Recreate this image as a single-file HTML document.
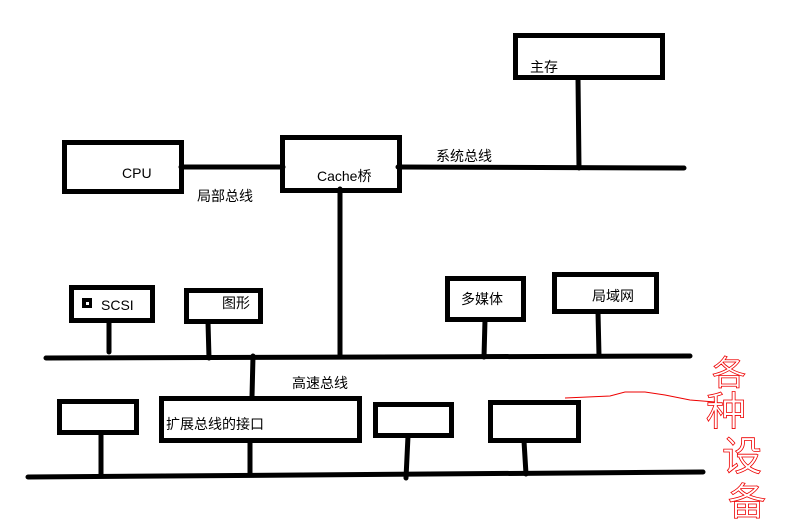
<!DOCTYPE html>
<html><head><meta charset="utf-8"><style>
html,body{margin:0;padding:0;background:#fff;width:800px;height:530px;overflow:hidden}
svg text{font-family:"Liberation Sans","Noto Sans CJK SC",sans-serif;font-size:14px;fill:#000}
</style></head><body>
<svg width="800" height="530" viewBox="0 0 800 530" xmlns="http://www.w3.org/2000/svg">
<g fill="none" stroke="#000" stroke-width="5">
<rect x="515.5" y="35.5" width="147" height="42"/>
<rect x="64.5" y="142.5" width="117" height="49"/>
<rect x="282.5" y="137.5" width="117" height="53"/>
<rect x="71.5" y="287.5" width="81" height="33"/>
<rect x="186.5" y="290.5" width="74" height="31"/>
<rect x="447.5" y="278.5" width="76" height="41"/>
<rect x="554.5" y="274.5" width="102" height="37"/>
<rect x="59.5" y="401.5" width="77" height="31"/>
<rect x="161.5" y="398.5" width="198" height="42"/>
<rect x="375.5" y="404.5" width="76" height="31"/>
<rect x="490.5" y="402.5" width="88" height="38"/>
</g>
<g stroke="#000" stroke-width="5" stroke-linecap="round">
<line x1="578" y1="78" x2="579" y2="168"/>
<line x1="398" y1="167" x2="684" y2="168"/>
<line x1="181" y1="167" x2="283" y2="167"/>
<line x1="340" y1="189" x2="340" y2="355"/>
<line x1="46" y1="358" x2="690" y2="356"/>
<line x1="109" y1="321" x2="109" y2="352"/>
<line x1="208" y1="322" x2="209" y2="358"/>
<line x1="485" y1="320" x2="484" y2="357"/>
<line x1="598" y1="312" x2="599" y2="356"/>
<line x1="253" y1="356" x2="252" y2="397"/>
<line x1="101" y1="433" x2="101" y2="476"/>
<line x1="250" y1="441" x2="250" y2="473"/>
<line x1="408" y1="436" x2="406" y2="478"/>
<line x1="524" y1="441" x2="526" y2="474"/>
<line x1="28" y1="477" x2="703" y2="472"/>
</g>
<rect x="82" y="298" width="10" height="10" fill="#000"/>
<rect x="86" y="302" width="3" height="3" fill="#fff"/>
<text x="530" y="72">主存</text>
<text x="122" y="178">CPU</text>
<text x="317" y="181">Cache桥</text>
<text x="197" y="201">局部总线</text>
<text x="436" y="161">系统总线</text>
<text x="101" y="310">SCSI</text>
<text x="222" y="308">图形</text>
<text x="461" y="304">多媒体</text>
<text x="592" y="301">局域网</text>
<text x="292" y="388">高速总线</text>
<text x="166" y="429">扩展总线的接口</text>
<path d="M565 398 L610 396 L625 392 L645 392 L665 395 L690 400 L715 402" fill="none" stroke="#e00" stroke-width="1"/>
<g fill="none" stroke="#e00" stroke-width="1">
<text x="712" y="385" style="font-size:34px;fill:none;stroke:#e00;stroke-width:0.8">各</text>
<text x="706" y="425" style="font-size:40px;fill:none;stroke:#e00;stroke-width:0.8">种</text>
<text x="722" y="470" style="font-size:40px;fill:none;stroke:#e00;stroke-width:0.8">设</text>
<text x="728" y="515" style="font-size:38px;fill:none;stroke:#e00;stroke-width:0.8">备</text>
</g>
</svg>
</body></html>
